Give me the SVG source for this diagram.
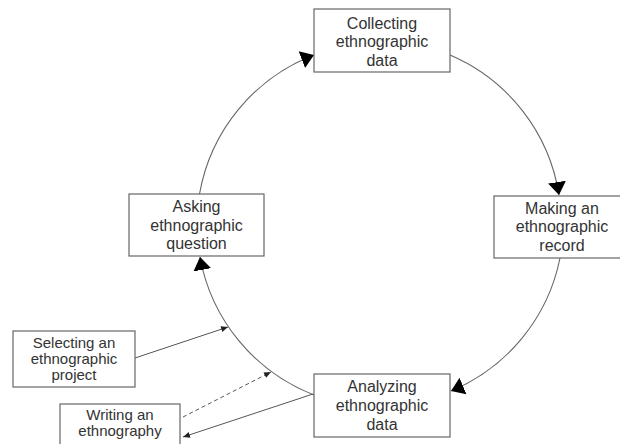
<svg xmlns="http://www.w3.org/2000/svg" width="620" height="444" viewBox="0 0 620 444">
<defs>
<style>
.box{fill:#fff;stroke:#666;stroke-width:1.2}
.t{font-family:"Liberation Sans",Arial,sans-serif;font-size:16px;fill:#333;text-anchor:middle}
.s{font-size:15px}
.arc{fill:none;stroke:#666;stroke-width:1.1}
.ln{fill:none;stroke:#555;stroke-width:1}
.dash{stroke-dasharray:4 3}
</style>
<marker id="big" markerUnits="userSpaceOnUse" markerWidth="14" markerHeight="20" refX="13" refY="9" orient="auto" viewBox="0 0 14 18">
<path d="M0,0 L13,9 L0,18 z" fill="#000"/>
</marker>
<marker id="sm" markerUnits="userSpaceOnUse" markerWidth="8" markerHeight="7" refX="7" refY="3" orient="auto" viewBox="0 0 8 6">
<path d="M0,0 L7,3 L0,6 z" fill="#222"/>
</marker>
</defs>
<g id="connectors">
<path class="arc" d="M199.5 194 A183 183 0 0 1 314 55" marker-end="url(#big)"/>
<path class="arc" d="M450 55 A183 183 0 0 1 559 195" marker-end="url(#big)"/>
<path class="arc" d="M560 258 A183 183 0 0 1 451 391" marker-end="url(#big)"/>
<path class="arc" d="M314 395 A183 183 0 0 1 200 257" marker-end="url(#big)"/>
<path class="ln" d="M135 358 L228 327" marker-end="url(#sm)"/>
<path class="ln dash" d="M183 417 L271 372" marker-end="url(#sm)"/>
<path class="ln" d="M313 394 L183 437" marker-end="url(#sm)"/>
</g>
<g id="collecting">
<rect class="box" x="314" y="9" width="136" height="63"/>
<text class="t" x="382" y="28.5">Collecting</text>
<text class="t" x="382" y="47">ethnographic</text>
<text class="t" x="382" y="65.5">data</text>
</g>
<g id="making">
<rect class="box" x="494" y="196" width="136" height="62"/>
<text class="t" x="562" y="213.5">Making an</text>
<text class="t" x="562" y="232">ethnographic</text>
<text class="t" x="562" y="250.5">record</text>
</g>
<g id="analyzing">
<rect class="box" x="314" y="374" width="136" height="63"/>
<text class="t" x="382" y="392">Analyzing</text>
<text class="t" x="382" y="411">ethnographic</text>
<text class="t" x="382" y="430">data</text>
</g>
<g id="asking">
<rect class="box" x="129" y="194" width="135" height="62"/>
<text class="t" x="196.5" y="212">Asking</text>
<text class="t" x="196.5" y="230.5">ethnographic</text>
<text class="t" x="196.5" y="249">question</text>
</g>
<g id="selecting">
<rect class="box" x="13" y="331" width="122" height="56"/>
<text class="t s" x="74" y="347.5">Selecting an</text>
<text class="t s" x="74" y="363.5">ethnographic</text>
<text class="t s" x="74" y="379.5">project</text>
</g>
<g id="writing">
<rect class="box" x="60" y="404" width="120" height="46"/>
<text class="t s" x="120" y="420">Writing an</text>
<text class="t s" x="120" y="436">ethnography</text>
</g>
</svg>
